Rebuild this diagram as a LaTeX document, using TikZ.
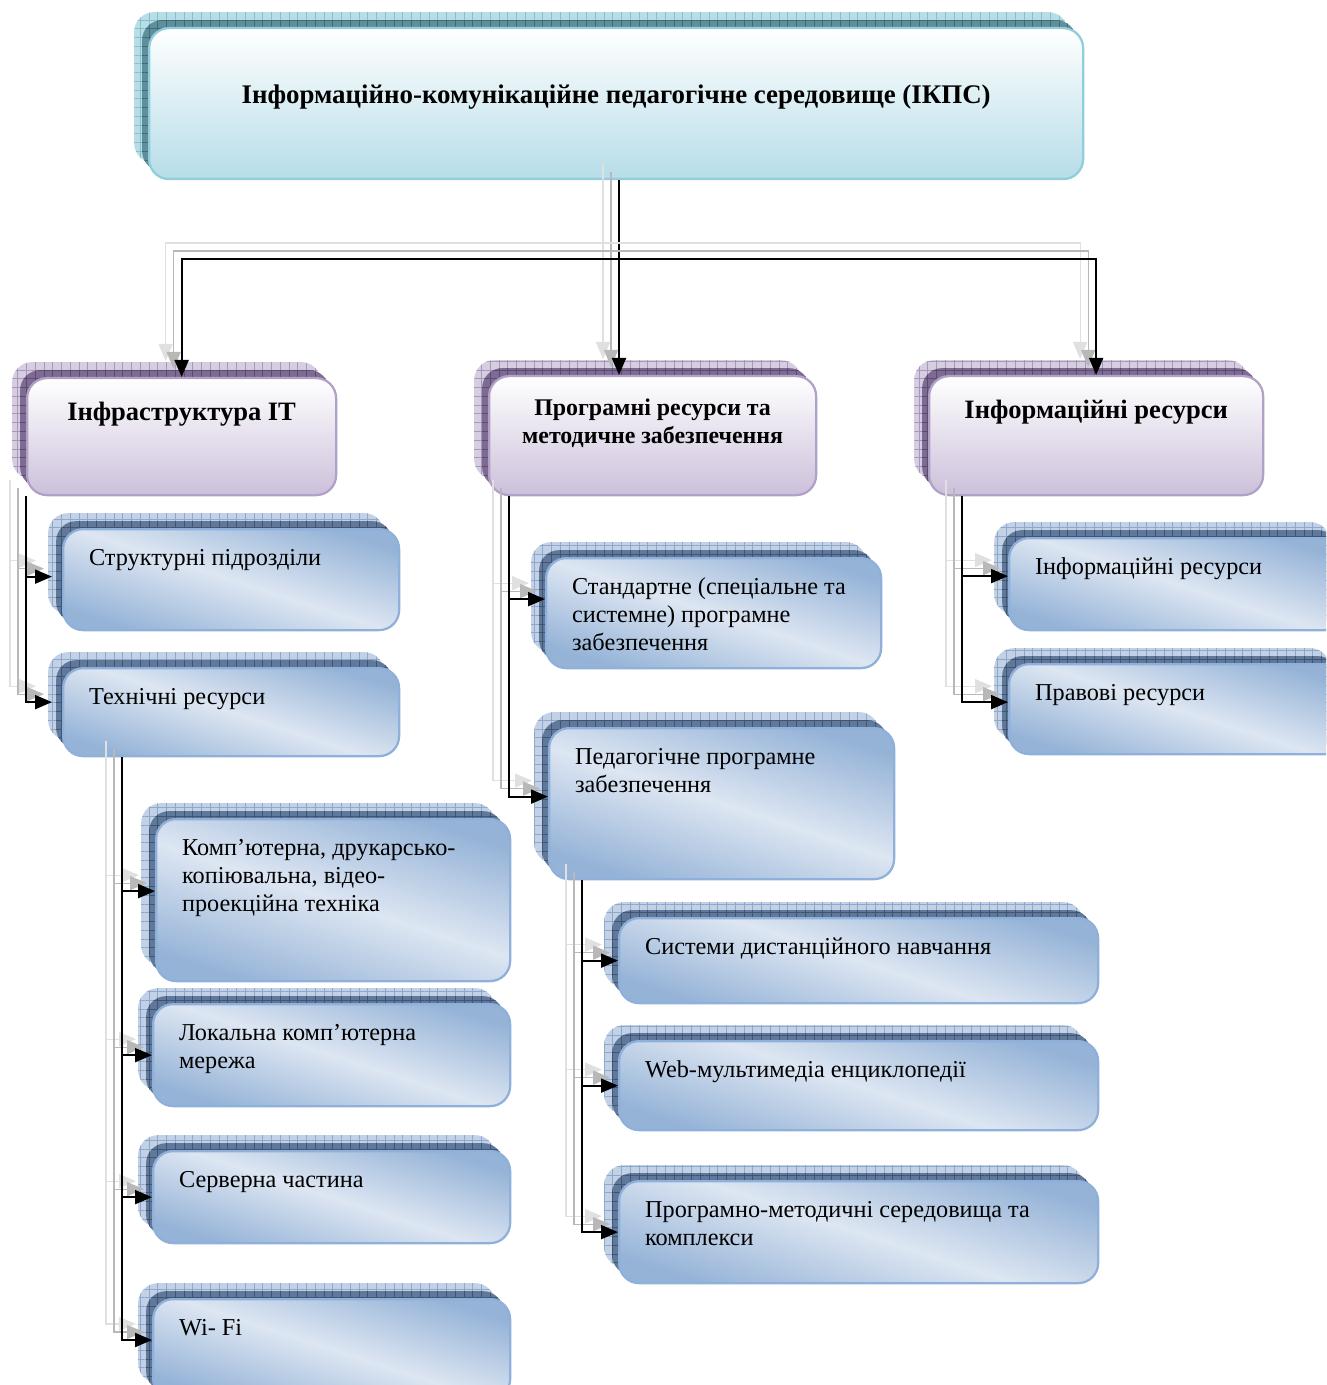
\documentclass[tikz,border=0pt]{standalone}
\usepackage{fontspec}
\setmainfont{Liberation Serif}
\usetikzlibrary{positioning, calc, arrows.meta, patterns.meta}

\newlength\pxu
\setlength\pxu{0.2mm}

% text inside a box: width, height, text
\newcommand\lbox[3]{\parbox[t][#2\pxu][t]{#1\pxu}{\vspace*{17\pxu}\raggedright\leftskip=26\pxu\strut#3}}
\newcommand\cbox[4][20]{\parbox[t][#3\pxu][t]{#2\pxu}{\vspace*{#1\pxu}\centering\strut#4}}

\definecolor{topline}{HTML}{92CDDC}
\definecolor{topfill}{HTML}{B6DDE8}
\definecolor{toplight}{HTML}{B9DDE6}
\definecolor{topgrid}{HTML}{86BECB}
\definecolor{topdark}{HTML}{5E8F9B}
\definecolor{topdgrid}{HTML}{3F6B76}
\definecolor{purline}{HTML}{B2A1C7}
\definecolor{purfill}{HTML}{CCC0DA}
\definecolor{purlight}{HTML}{D6CDE1}
\definecolor{purgrid}{HTML}{A797BA}
\definecolor{purdark}{HTML}{7E6B93}
\definecolor{purdgrid}{HTML}{5B4B6C}
\definecolor{bluline}{HTML}{8FB0DA}
\definecolor{bludark}{HTML}{95B3D7}
\definecolor{blulight}{HTML}{DDE6F2}
\definecolor{blushade}{HTML}{C2D1E6}
\definecolor{blugrid}{HTML}{8EA8CB}
\definecolor{bludeep}{HTML}{607899}
\definecolor{bludgrid}{HTML}{3F5573}

\tikzset{Layers/.style n args={4}{
  preaction={fill=#1, transform canvas={shift={(-15,-16)}}},
  preaction={pattern={Hatch[distance=1.75mm, line width=0.25pt]}, pattern color=#2,
    transform canvas={shift={(-15,-16)}}},
  preaction={fill=#3, transform canvas={shift={(-7,-8)}}},
  preaction={pattern={Hatch[distance=1.75mm, line width=0.25pt]}, pattern color=#4,
    transform canvas={shift={(-7,-8)}}}}}

\tikzstyle{Face} = [rounded corners=20\pxu, inner sep=0pt, anchor=north west, line width=0.45mm]
\tikzstyle{TopBox} = [Face, Layers={toplight}{topgrid}{topdark}{topdgrid},
  draw=topline, top color=white, bottom color=topfill,
  font=\bfseries\fontsize{15.3pt}{17pt}\selectfont]
\tikzstyle{MidBox} = [Face, Layers={purlight}{purgrid}{purdark}{purdgrid},
  draw=purline, top color=white, bottom color=purfill,
  font=\bfseries\fontsize{15.1pt}{18pt}\selectfont]
\tikzstyle{LowBox} = [Face, Layers={blushade}{blugrid}{bludeep}{bludgrid},
  draw=bluline, top color=bludark, bottom color=bludark, middle color=blulight,
  shading angle=-18, font=\fontsize{13.8pt}{15.9pt}\selectfont]
\tikzstyle{Arrow} = [line width=0.4mm, -{Triangle[length=3.4mm, width=2.8mm]},
  preaction={draw=black!12, line width=0.25mm, transform canvas={shift={(-16,-16)}}},
  preaction={draw=black!28, line width=0.25mm, transform canvas={shift={(-8,-8)}}}]

\begin{document}
\begin{tikzpicture}[x=0.2mm, y=-0.2mm]
    \useasboundingbox (0,0) rectangle (1326,1385);
    \fill[white] (0,0) rectangle (1326,1385);
    \clip (0,0) rectangle (1326,1385);

    % top level
    \node[TopBox] (top) at (148,27)
        {\cbox[54]{934}{151}{Інформаційно-комунікаційне педагогічне середовище (ІКПС)}};

    % second level
    \node[MidBox] (infra) at (26,377) {\cbox{309}{117}{Інфраструктура IT}};
    \node[MidBox, font=\bfseries\fontsize{13.6pt}{15.9pt}\selectfont] (prog) at (488,375)
        {\cbox{327}{119}{Програмні ресурси та\\методичне забезпечення}};
    \node[MidBox] (info) at (928,375) {\cbox{334}{119}{Інформаційні ресурси}};

    % infrastructure
    \node[LowBox] (struct) at (62,528) {\lbox{336}{101}{Структурні підрозділи}};
    \node[LowBox] (tech) at (62,667) {\lbox{336}{88}{Технічні ресурси}};
    \node[LowBox] (comp) at (155,818)
        {\lbox{354}{162}{Комп’ютерна, друкарсько-\\копіювальна, відео-\\проекційна техніка}};
    \node[LowBox] (lan) at (152,1003) {\lbox{357}{102}{Локальна комп’ютерна\\мережа}};
    \node[LowBox] (serv) at (152,1150) {\lbox{357}{92}{Серверна частина}};
    \node[LowBox] (wifi) at (152,1298) {\lbox{357}{100}{Wi- Fi}};

    % software
    \node[LowBox] (std) at (545,557)
        {\lbox{335}{110}{Стандартне (спеціальне та\\системне) програмне\\забезпечення}};
    \node[LowBox] (ped) at (548,727) {\lbox{345}{151}{Педагогічне програмне\\забезпечення}};
    \node[LowBox] (dist) at (618,917) {\lbox{479}{85}{Системи дистанційного навчання}};
    \node[LowBox] (web) at (618,1040) {\lbox{479}{89}{Web-мультимедіа енциклопедії}};
    \node[LowBox] (pmc) at (618,1180)
        {\lbox{479}{102}{Програмно-методичні середовища та\\комплекси}};

    % information
    \node[LowBox] (infres) at (1008,537) {\lbox{336}{92}{Інформаційні ресурси}};
    \node[LowBox] (law) at (1008,663) {\lbox{336}{90}{Правові ресурси}};

    \coordinate (hub) at (619,259);
    \draw[Arrow] (top.south -| hub) -- (prog.north -| hub);
    \draw[Arrow] (hub) -| (infra.north);
    \draw[Arrow] (hub) -| (info.north);

    \draw[Arrow, shorten >=10\pxu] (infra.south west) |- ($(struct.west)+(0,-3)$);
    \draw[Arrow, shorten >=10\pxu] (infra.south west) |- ($(tech.west)+(0,-10)$);

    \draw[Arrow] ($(tech.south west)+(60,0)$) |- ($(comp.west)+(0,-9)$);
    \draw[Arrow] ($(tech.south west)+(60,0)$) |- (lan.west);
    \draw[Arrow] ($(tech.south west)+(60,0)$) |- (serv.west);
    \draw[Arrow] ($(tech.south west)+(60,0)$) |- ($(wifi.north west)+(0,42)$);

    \draw[Arrow] ($(prog.south west)+(21,0)$) |- ($(std.west)+(0,-14)$);
    \draw[Arrow] ($(prog.south west)+(21,0)$) |- ($(ped.west)+(0,-7)$);

    \draw[Arrow] ($(ped.south west)+(34,0)$) |- (dist.west);
    \draw[Arrow] ($(ped.south west)+(34,0)$) |- (web.west);
    \draw[Arrow] ($(ped.south west)+(34,0)$) |- (pmc.west);

    \draw[Arrow] ($(info.south west)+(34,0)$) |- ($(infres.west)+(0,-8)$);
    \draw[Arrow] ($(info.south west)+(34,0)$) |- ($(law.west)+(0,-7)$);
\end{tikzpicture}
\end{document}
